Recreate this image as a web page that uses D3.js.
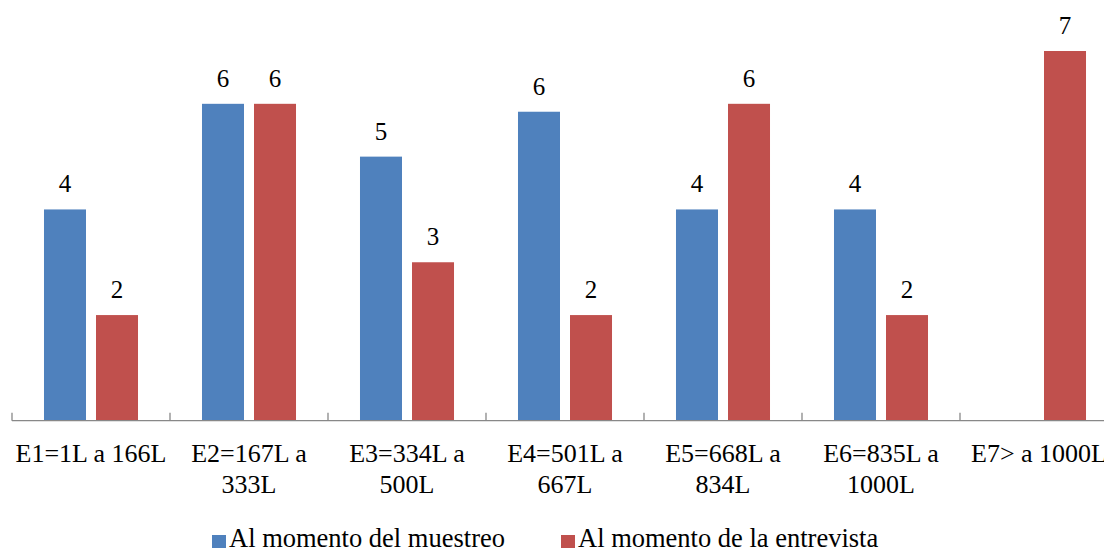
<!DOCTYPE html>
<html>
<head>
<meta charset="utf-8">
<script src="https://cdn.jsdelivr.net/npm/d3@7"></script>
</head>
<body style="margin:0;padding:0;background:#fff;">
<svg id="fig" width="1104" height="552" style="display:block;font-family:'Liberation Serif'"></svg>
<script>
const categories = ["E1","E2","E3","E4","E5","E6","E7"];
const tickLabels = [
  ["E1=1L a 166L"],
  ["E2=167L a","333L"],
  ["E3=334L a","500L"],
  ["E4=501L a","667L"],
  ["E5=668L a","834L"],
  ["E6=835L a","1000L"],
  ["E7> a 1000L"]
];
const seriesNames = ["Al momento del muestreo","Al momento de la entrevista"];
const muestreo = [4, 6, 5, 5.85, 4, 4, null];
const entrevista = [2, 6, 3, 2, 6, 2, 7];
const colors = ["#4F81BD","#C0504D"];

const svg = d3.select("#fig");
function label(parent, size) {
  return parent.append("text")
    .style("font-family", '"Liberation Serif"')
    .style("font-size", size + "px")
    .attr("fill", "#000");
}
const baseY = 420.7;
const x0 = d3.scaleBand().domain(categories).range([12, 12 + 158*7]).padding(0);
const x1 = d3.scaleBand().domain(seriesNames).range([0, x0.bandwidth()])
  .paddingInner(10/52).paddingOuter(0.615);
const y = d3.scaleLinear().domain([0, 7]).range([baseY, 51]);

const rows = categories.map((c,i)=>({cat:c, vals:[muestreo[i], entrevista[i]]}));

// bars + value labels
const g = svg.append("g");
rows.forEach(r=>{
  r.vals.forEach((v,j)=>{
    if (v == null) return;
    const xx = x0(r.cat) + x1(seriesNames[j]);
    g.append("rect")
      .attr("x", xx).attr("width", x1.bandwidth())
      .attr("y", y(v)).attr("height", y(0)-y(v))
      .attr("fill", colors[j]);
    label(g, 25)
      .attr("x", xx + x1.bandwidth()/2)
      .attr("y", y(v) - 17)
      .attr("text-anchor","middle")
      .text(d3.format(".0f")(v));
  });
});

// category axis (line + boundary ticks)
const ag = svg.append("g").attr("transform", `translate(0,${baseY})`);
ag.append("line").attr("x1", x0.range()[0]).attr("x2", x0.range()[1])
  .attr("y1", 0).attr("y2", 0).attr("stroke","#888").attr("stroke-width",1.3);
const boundaries = categories.map(c=>x0(c)).concat([x0.range()[1]]);
ag.selectAll(".bnd").data(boundaries).enter().append("line")
  .attr("x1", d=>d).attr("x2", d=>d).attr("y1", 0).attr("y2", -8)
  .attr("stroke","#888").attr("stroke-width",1.3);

// tick labels
categories.forEach((c,i)=>{
  const cx = x0(c) + x0.bandwidth()/2;
  const t = label(svg, 26)
    .attr("x", cx).attr("y", 462)
    .attr("text-anchor","middle");
  tickLabels[i].forEach((line,k)=>{
    t.append("tspan").attr("x", cx).attr("dy", k===0 ? 0 : 31).text(line);
  });
});

// legend
const legendX = [212, 561];
seriesNames.forEach((n,j)=>{
  svg.append("rect").attr("x", legendX[j]).attr("y", 535).attr("width", 14).attr("height", 13)
    .attr("fill", colors[j]);
  label(svg, 26.5)
    .attr("x", legendX[j] + 17).attr("y", 547)
    .text(n);
});
</script>
</body>
</html>
